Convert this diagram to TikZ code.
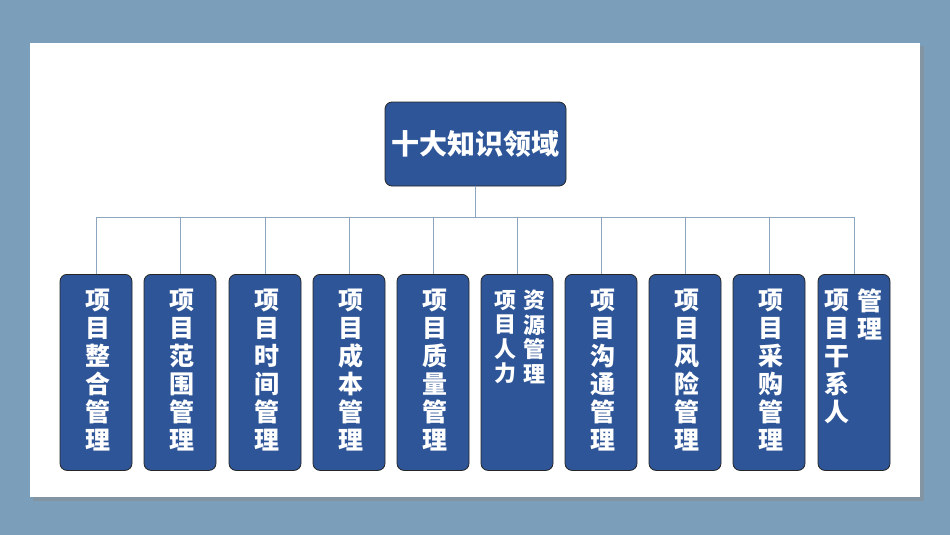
\documentclass[tikz,border=0pt]{standalone}
\usepackage{fontspec}
\newfontfamily\cjk{Noto Sans CJK SC}
\begin{document}
\begin{tikzpicture}[x=1pt,y=-1pt,
  box/.style={draw=black!85,line width=0.8pt,fill=boxblue,rounded corners=7pt},
  vt/.style={text=white,font=\cjk\bfseries\fontsize{25}{28}\selectfont,align=center,anchor=north,inner sep=0pt},
  vs/.style={vt,font=\cjk\bfseries\fontsize{22}{24.5}\selectfont},
  conn/.style={draw=linegray,line width=0.8pt}]
\definecolor{boxblue}{HTML}{2E5597}
\definecolor{bgblue}{HTML}{7B9EBA}
\definecolor{linegray}{HTML}{8DA6BD}
\fill[bgblue] (0,0) rectangle (950,535);
\useasboundingbox (0,0) rectangle (950,535);
\fill[black!45,opacity=0.5] (33,46) rectangle (924,501);
\fill[white] (30,43) rectangle (920,497);
\node[box,minimum width=181pt,minimum height=84pt,text=white,font=\cjk\bfseries\fontsize{28}{32}\selectfont] (top) at (475.5,144) {十大知识领域};
\coordinate (hb) at (475.5,217);
\draw[conn] (top.south) -- (hb);
\foreach \i/\x in {1/96,2/180,3/265,4/349,5/433,6/517,7/601,8/685,9/769,10/854}{
  \node[box,minimum width=72pt,minimum height=196pt,anchor=north] (c\i) at (\x,274) {};
  \coordinate (h\i) at (\x,217);
  \draw[conn] (h\i) -- (c\i.north);
}
\draw[conn] (h1) -- (h10);
\node[vt] (t1) at (98,289) {项\\目\\整\\合\\管\\理};
\node[vt] (t2) at (182,289) {项\\目\\范\\围\\管\\理};
\node[vt] (t3) at (267,289) {项\\目\\时\\间\\管\\理};
\node[vt] (t4) at (351,289) {项\\目\\成\\本\\管\\理};
\node[vt] (t5) at (435,289) {项\\目\\质\\量\\管\\理};
\node[vs] (t6a) at (505,290) {项\\目\\人\\力};
\node[vs] (t6b) at (534,290) {资\\源\\管\\理};
\node[vt] (t7) at (603,289) {项\\目\\沟\\通\\管\\理};
\node[vt] (t8) at (687,289) {项\\目\\风\\险\\管\\理};
\node[vt] (t9) at (771,289) {项\\目\\采\\购\\管\\理};
\node[vt] (t10a) at (837,289) {项\\目\\干\\系\\人};
\node[vt] (t10b) at (870,289) {管\\理};
\end{tikzpicture}
\end{document}
